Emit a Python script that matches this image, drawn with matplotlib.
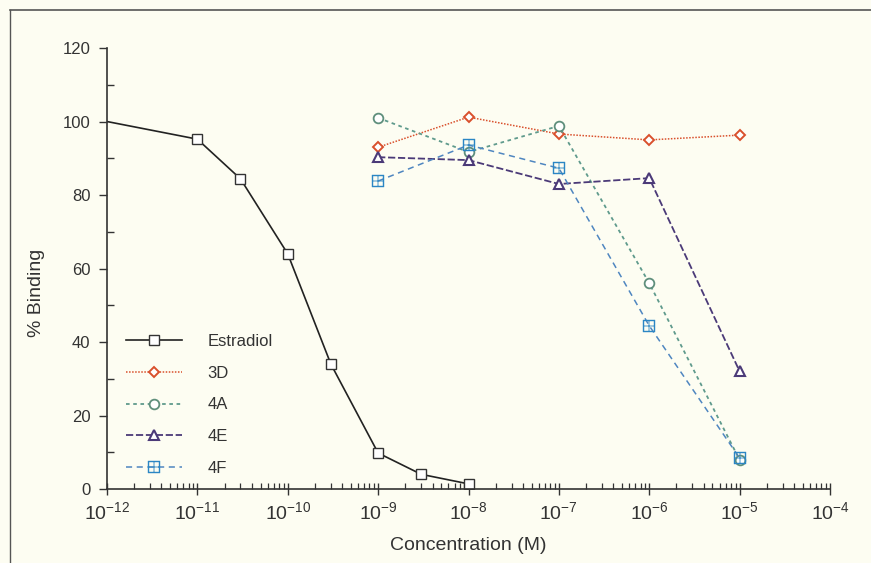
import numpy as np
import matplotlib
matplotlib.use('Agg')
import matplotlib.pyplot as plt
from matplotlib.ticker import LogLocator, NullFormatter
from matplotlib.lines import Line2D

plt.rcParams['font.family'] = ['Liberation Sans', 'DejaVu Sans']
plt.rcParams['mathtext.fontset'] = 'custom'
plt.rcParams['mathtext.rm'] = 'Liberation Sans'
plt.rcParams['mathtext.default'] = 'regular'

# data
estradiol_conc = [1e-12, 1e-11, 3e-11, 1e-10, 3e-10, 1e-9, 3e-9, 1e-8]
estradiol_bind = [100.0, 95.2, 84.4, 64.0, 34.0, 9.8, 4.0, 1.4]

cmpd_conc = [1e-9, 1e-8, 1e-7, 1e-6, 1e-5]
bind_3d = [93.0, 101.2, 96.6, 95.0, 96.3]
bind_4a = [101.0, 91.7, 98.8, 56.0, 7.9]
bind_4e = [90.3, 89.5, 83.0, 84.6, 32.0]
bind_4f = [83.8, 93.6, 87.3, 44.4, 8.4]

labels = ['Estradiol', '3D', '4A', '4E', '4F']
decades = np.arange(-12, -3)

bg = '#fdfdf2'
fig = plt.figure(figsize=(8.71, 5.63), dpi=100, facecolor=bg)
ax = fig.add_axes([0.1228, 0.1314, 0.8302, 0.7833], facecolor=bg)

# scan frame (top and left edges)
fig.add_artist(Line2D([0.011, 1.0], [0.982, 0.982], transform=fig.transFigure,
                      color='#555555', linewidth=1.2))
fig.add_artist(Line2D([0.011, 0.011], [0.0, 0.982], transform=fig.transFigure,
                      color='#555555', linewidth=1.0))

ax.plot(estradiol_conc, estradiol_bind, color='#222222', linewidth=1.2,
        marker='s', markersize=7, markerfacecolor='white',
        markeredgecolor='#333333', markeredgewidth=1.0,
        markevery=list(range(1, len(estradiol_conc))), label=labels[0])
ax.plot(cmpd_conc, bind_3d, color='#d9502c', linestyle=(0, (1, 1)), linewidth=1.1,
        marker='D', markersize=5.5, markerfacecolor='white',
        markeredgecolor='#d9502c', markeredgewidth=1.4, label=labels[1])
ax.plot(cmpd_conc, bind_4a, color='#5f9a8c', linestyle=(0, (2, 2)), linewidth=1.3,
        marker='o', markersize=7, markerfacecolor='white',
        markeredgecolor='#5f8f7c', markeredgewidth=1.3, label=labels[2])
ax.plot(cmpd_conc, bind_4e, color='#4b3a78', linestyle=(0, (4, 1.5)), linewidth=1.3,
        marker='^', markersize=7, markerfacecolor='white',
        markeredgecolor='#4b3a78', markeredgewidth=1.5, label=labels[3])
ax.plot(cmpd_conc, bind_4f, color='#4f86c0', linestyle=(0, (4, 3)), linewidth=1.1,
        marker='$\\boxplus$', markersize=8, markerfacecolor='#2b86c4',
        markeredgecolor='#2b86c4', markeredgewidth=0.3, label=labels[4])

ax.set_xscale('log')
ax.set_xlim(1e-12, 1e-4)
ax.set_ylim(0, 120)
ax.set_yticks([0, 20, 40, 60, 80, 100, 120])
ax.set_yticks([10, 30, 50, 70, 90, 110], minor=True)
ax.set_xticks(10.0 ** decades)
ax.set_xticklabels([r'$10^{%d}$' % d for d in decades])
ax.xaxis.set_minor_locator(LogLocator(base=10, subs=np.arange(2, 10), numticks=100))
ax.xaxis.set_minor_formatter(NullFormatter())

for s in ['top', 'right']:
    ax.spines[s].set_visible(False)
for s in ['left', 'bottom']:
    ax.spines[s].set_color('#333333')
    ax.spines[s].set_linewidth(1.2)

ax.tick_params(axis='y', which='major', direction='out', length=6, width=1.0,
               color='#333333', labelsize=12, labelcolor='#333333', pad=6)
ax.tick_params(axis='y', which='minor', direction='in', length=5, width=1.0, color='#333333')
ax.tick_params(axis='x', which='major', direction='inout', length=9, width=1.0,
               color='#333333', labelsize=14, labelcolor='#333333', pad=4)
ax.tick_params(axis='x', which='minor', direction='in', length=4, width=0.9, color='#333333')

ax.set_xlabel('Concentration (M)', fontsize=14, color='#333333', labelpad=10)
ax.set_ylabel('% Binding', fontsize=14, color='#333333')
ax.yaxis.set_label_coords(-0.085, 0.444)

leg = ax.legend(loc='lower left', bbox_to_anchor=(0.026, 0.03), frameon=False,
                fontsize=12, handlelength=3.4, handletextpad=1.5,
                labelspacing=1.0, borderaxespad=0, borderpad=0)
for t in leg.get_texts():
    t.set_color('#333333')

fig.savefig('out.png', dpi=100, facecolor=bg)
